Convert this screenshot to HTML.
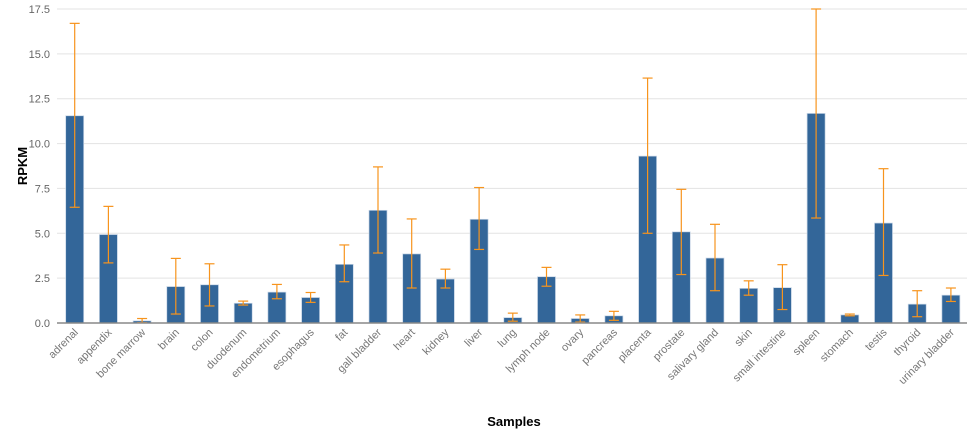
<!DOCTYPE html>
<html><head><meta charset="utf-8"><style>body{margin:0;background:#fff}svg{display:block}</style></head><body>
<svg id="c" width="975" height="435" xmlns="http://www.w3.org/2000/svg" font-family="Liberation Sans, Arial, sans-serif"></svg>
<script>
const d=[["adrenal",11.55,6.45,16.7],["appendix",4.93,3.35,6.5],["bone marrow",0.12,0.02,0.25],["brain",2.03,0.5,3.6],["colon",2.13,0.95,3.3],["duodenum",1.1,1.0,1.22],["endometrium",1.72,1.35,2.15],["esophagus",1.42,1.15,1.7],["fat",3.27,2.3,4.35],["gall bladder",6.28,3.9,8.7],["heart",3.85,1.95,5.8],["kidney",2.45,1.95,3.0],["liver",5.78,4.1,7.55],["lung",0.3,0.1,0.55],["lymph node",2.58,2.05,3.1],["ovary",0.25,0.05,0.45],["pancreas",0.4,0.15,0.65],["placenta",9.3,5.0,13.65],["prostate",5.08,2.7,7.45],["salivary gland",3.62,1.8,5.5],["skin",1.93,1.55,2.35],["small intestine",1.97,0.75,3.25],["spleen",11.68,5.85,17.5],["stomach",0.45,0.4,0.5],["testis",5.57,2.65,8.6],["thyroid",1.05,0.35,1.8],["urinary bladder",1.55,1.2,1.95]];
const Y=v=>323-v*314/17.5;let s='';
for(let i=0;i<=7;i++){const v=i*2.5,y=Y(v);s+=`<line x1="57" x2="967" y1="${y}" y2="${y}" stroke="#e3e3e3" stroke-width="1"/><text x="50" y="${y+4}" text-anchor="end" font-size="11" fill="#666">${v.toFixed(1)}</text>`;}
d.forEach((r,i)=>{const c=74.7+i*33.7;s+=`<rect x="${c-9}" y="${Y(r[1])}" width="18" height="${323-Y(r[1])}" fill="#336699" stroke="#c8d6e6" stroke-width="0.7"/>`;
s+=`<g stroke="#f7941d" stroke-width="1.2"><line x1="${c}" x2="${c}" y1="${Y(r[3])}" y2="${Y(r[2])}"/><line x1="${c-5}" x2="${c+5}" y1="${Y(r[3])}" y2="${Y(r[3])}"/><line x1="${c-5}" x2="${c+5}" y1="${Y(r[2])}" y2="${Y(r[2])}"/></g>`;
s+=`<text transform="translate(${c+4},333) rotate(-45)" text-anchor="end" font-size="11" fill="#777">${r[0]}</text>`;});
s+=`<line x1="57" x2="967" y1="323" y2="323" stroke="#888" stroke-width="1.5"/>`;
s+=`<text transform="translate(27,166) rotate(-90)" text-anchor="middle" font-size="13" font-weight="bold">RPKM</text><text x="514" y="426" text-anchor="middle" font-size="13" font-weight="bold">Samples</text>`;
document.getElementById('c').innerHTML=s;
</script></body></html>
